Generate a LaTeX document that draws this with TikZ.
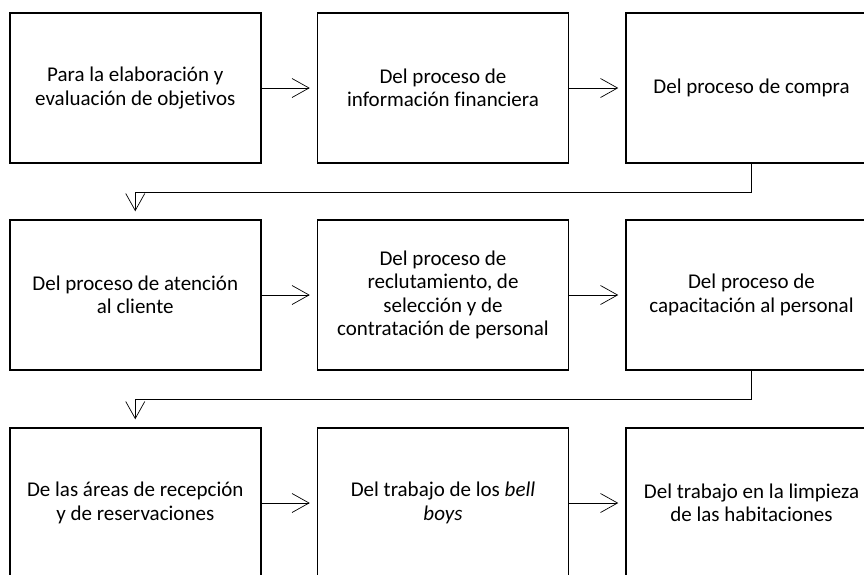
\documentclass[tikz,border=0pt]{standalone}
\usepackage{fontspec}
\setmainfont{Carlito}[Ligatures=NoCommon]
\usetikzlibrary{arrows.meta}
\tikzset{
caja/.style={draw,line width=1.5pt,minimum width=251pt,minimum height=150pt,inner sep=0pt,align=center,font=\fontsize{21}{23.3}\selectfont},
flecha/.style={line width=0.7pt,-{Straight Barb[length=17pt,width=19pt]}}
}
\begin{document}
\begin{tikzpicture}[x=1pt,y=-1pt]
\useasboundingbox (0,0) rectangle (864,574);
\clip (0,0) rectangle (864,574);
\node[caja] (p1) at (135.25,88) {Para la elaboración y\\evaluación de objetivos};
\node[caja] (p2) at (443,88) {Del proceso de\\información financiera};
\node[caja] (p3) at (751.5,88) {Del proceso de compra};
\node[caja] (p4) at (135.25,295) {Del proceso de atención\\al cliente};
\node[caja] (p5) at (443,295) {Del proceso de\\reclutamiento, de\\selección y de\\contratación de personal};
\node[caja] (p6) at (751.5,295) {Del proceso de\\capacitación al personal};
\node[caja] (p7) at (135.25,503) {De las áreas de recepción\\y de reservaciones};
\node[caja] (p8) at (443,503) {Del trabajo de los \textit{bell}\\\textit{boys}};
\node[caja] (p9) at (751.5,503) {Del trabajo en la limpieza\\de las habitaciones};
\foreach \a/\b in {p1/p2,p2/p3,p4/p5,p5/p6,p7/p8,p8/p9}
\draw[flecha] (\a.east) -- ([xshift=-7pt]\b.west);
\draw[flecha] (p3.south) -- ++(0,29) -| ([yshift=8pt]p4.north);
\draw[flecha] (p6.south) -- ++(0,29) -| ([yshift=8pt]p7.north);
\end{tikzpicture}
\end{document}
